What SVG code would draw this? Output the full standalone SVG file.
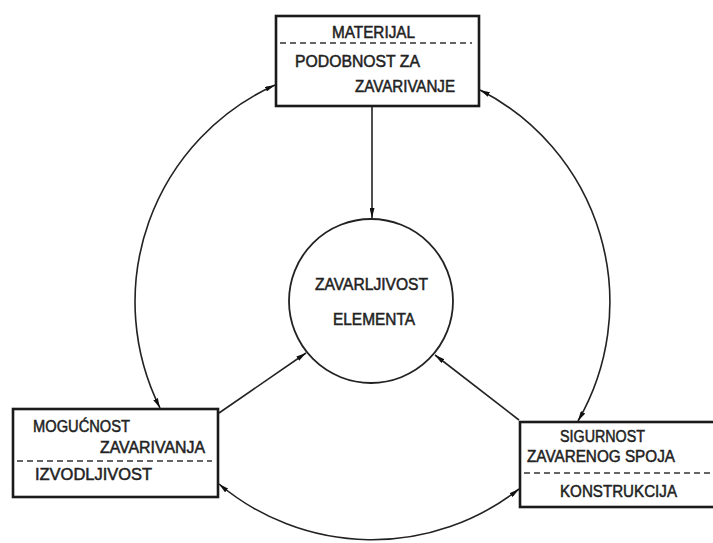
<svg xmlns="http://www.w3.org/2000/svg" width="713" height="543" viewBox="0 0 713 543">
<defs>
<style>
.box{fill:#fff;stroke:#1a1a1a;stroke-width:2.6}
.dash{stroke:#333;stroke-width:1.6;stroke-dasharray:6 4;fill:none}
.t{font-family:"Liberation Sans",Arial,sans-serif;font-size:16px;fill:#222;stroke:#222;stroke-width:0.5}
.c{fill:none;stroke:#222;stroke-width:1.6}
</style>
<marker id="ah" viewBox="0 0 10 5" refX="10" refY="2.5" markerWidth="10" markerHeight="5" markerUnits="userSpaceOnUse" orient="auto-start-reverse">
<path d="M0,0 L10,2.5 L0,5 z" fill="#111"/>
</marker>
</defs>
<rect width="713" height="543" fill="#fff"/>
<g id="connectors">
<path class="c" d="M372,107 L372,218" marker-end="url(#ah)"/>
<path class="c" d="M219,413 L306,353" marker-end="url(#ah)"/>
<path class="c" d="M519,420 L435,355" marker-end="url(#ah)"/>
<path class="c" d="M160,408 A238,238 0 0 1 275,85" marker-start="url(#ah)" marker-end="url(#ah)"/>
<path class="c" d="M480,90 A238,238 0 0 1 578,421" marker-start="url(#ah)" marker-end="url(#ah)"/>
<path class="c" d="M519,489 A238,238 0 0 1 219,484" marker-start="url(#ah)" marker-end="url(#ah)"/>
</g>
<g id="material">
<rect class="box" x="276" y="16" width="203" height="90"/>
<line class="dash" x1="280" y1="43" x2="472" y2="43"/>
<text class="t" x="332" y="38" textLength="83" lengthAdjust="spacingAndGlyphs">MATERIJAL</text>
<text class="t" x="295" y="67" textLength="125" lengthAdjust="spacingAndGlyphs">PODOBNOST  ZA</text>
<text class="t" x="355" y="92" textLength="100" lengthAdjust="spacingAndGlyphs">ZAVARIVANJE</text>
</g>
<g id="element">
<circle cx="371" cy="301" r="82" fill="#fff" stroke="#222" stroke-width="1.8"/>
<text class="t" x="315" y="290" textLength="113" lengthAdjust="spacingAndGlyphs">ZAVARLJIVOST</text>
<text class="t" x="333" y="325" textLength="82" lengthAdjust="spacingAndGlyphs">ELEMENTA</text>
</g>
<g id="mogucnost">
<rect class="box" x="13" y="409" width="205" height="88"/>
<line class="dash" x1="17" y1="461" x2="212" y2="461"/>
<text class="t" x="33" y="432" textLength="97" lengthAdjust="spacingAndGlyphs">MOGUĆNOST</text>
<text class="t" x="100" y="453" textLength="105" lengthAdjust="spacingAndGlyphs">ZAVARIVANJA</text>
<text class="t" x="35" y="480" textLength="117" lengthAdjust="spacingAndGlyphs">IZVODLJIVOST</text>
</g>
<g id="sigurnost">
<rect class="box" x="520" y="422" width="210" height="85"/>
<line class="dash" x1="524" y1="473" x2="713" y2="473"/>
<text class="t" x="560" y="442" textLength="85" lengthAdjust="spacingAndGlyphs">SIGURNOST</text>
<text class="t" x="527" y="462" textLength="148" lengthAdjust="spacingAndGlyphs">ZAVARENOG  SPOJA</text>
<text class="t" x="560" y="497" textLength="117" lengthAdjust="spacingAndGlyphs">KONSTRUKCIJA</text>
</g>
</svg>
